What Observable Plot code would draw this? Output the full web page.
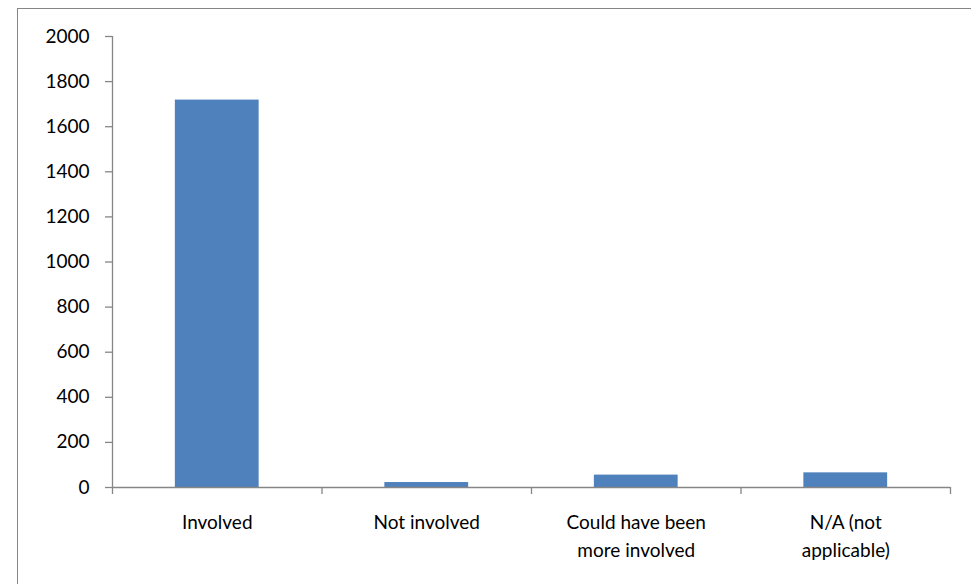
<!DOCTYPE html>
<html>
<head>
<meta charset="utf-8">
<script src="https://cdn.jsdelivr.net/npm/d3@7"></script>
<script src="https://cdn.jsdelivr.net/npm/@observablehq/plot@0.6"></script>
<style>
  html, body { margin: 0; padding: 0; background: #fff; }
  #wrap { position: relative; width: 971px; height: 584px; overflow: hidden; }
  #border { position: absolute; left: 17px; top: 8px; width: 960px; height: 600px; border: 1px solid #868686; box-sizing: border-box; }
  #chart { position: absolute; left: 0; top: 0; }
</style>
</head>
<body>
<div id="wrap"><div id="border"></div><div id="chart"></div></div>
<script>
const categories = ["Involved", "Not involved", "Could have been\nmore involved", "N/A (not\napplicable)"];
const values = [1718, 22, 55, 65];
const yTicks = [0, 200, 400, 600, 800, 1000, 1200, 1400, 1600, 1800, 2000];

const data = categories.map((c, i) => ({cat: c, i, value: values[i]}));
const boundaries = d3.range(categories.length + 1);
const font = "Lato, 'Open Sans', sans-serif";

const chart = Plot.plot({
  width: 971,
  height: 584,
  marginLeft: 112,
  marginRight: 21,
  marginTop: 36,
  marginBottom: 97,
  style: {fontFamily: font, fontSize: "19px", color: "#000", background: "transparent"},
  x: {type: "linear", domain: [0, categories.length]},
  y: {type: "linear", domain: [0, 2000]},
  marks: [
    Plot.rectY(data, {x1: d => d.i + 0.3, x2: d => d.i + 0.7, y1: 0, y2: "value", fill: "#4F81BD"}),
    Plot.axisY({ticks: yTicks, tickSize: 7, tickPadding: 16, stroke: "#868686", strokeWidth: 1.3, strokeOpacity: 1, fill: "#000", fontSize: 19, label: null, tickFormat: d => String(d)}),
    Plot.axisX({ticks: boundaries, tickSize: 7, stroke: "#868686", strokeWidth: 1.3, strokeOpacity: 1, tickFormat: () => "", label: null}),
    Plot.ruleX([0], {y1: 0, y2: 2000, stroke: "#868686", strokeWidth: 1.3}),
    Plot.ruleY([0], {x1: 0, x2: categories.length, stroke: "#868686", strokeWidth: 1.3}),
    Plot.text(data, {x: d => d.i + 0.5, y: 0, text: "cat", lineAnchor: "top", dy: 21, lineHeight: 1.5, fill: "#000", fontSize: 19})
  ]
});
document.getElementById("chart").appendChild(chart);
</script>
</body>
</html>
